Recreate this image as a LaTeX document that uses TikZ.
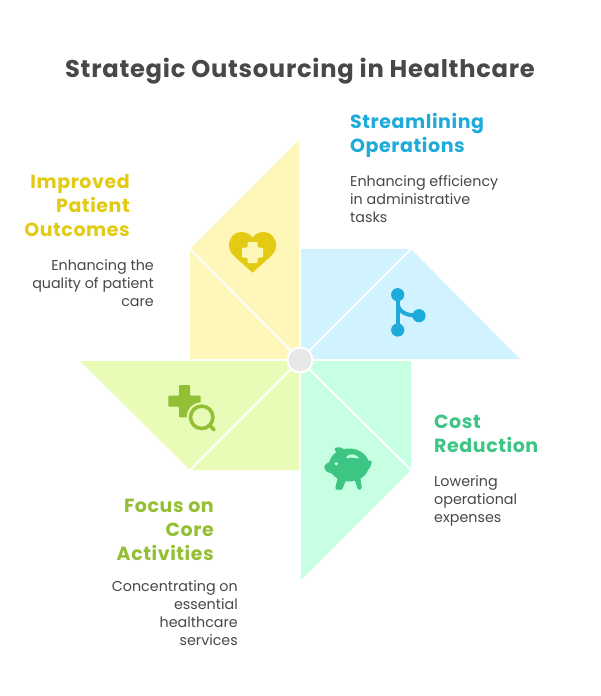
\documentclass[tikz,border=0pt]{standalone}
\usepackage{fontspec}
\setmainfont{Poppins}
\newfontfamily\headfont[LetterSpace=3]{Poppins Bold}
\definecolor{ink}{HTML}{484848}
\definecolor{yelF}{HTML}{FEF7B9}
\definecolor{bluF}{HTML}{D1F3FF}
\definecolor{limF}{HTML}{E8FCB8}
\definecolor{minF}{HTML}{C6FFE2}
\definecolor{yelD}{HTML}{E3CB14}
\definecolor{bluD}{HTML}{1EABDA}
\definecolor{limD}{HTML}{93BF35}
\definecolor{minD}{HTML}{3CC583}
\tikzset{
  x=1pt,y=-1pt,
  head/.style={inner sep=0pt,font=\headfont\fontsize{19}{24}\selectfont},
  body/.style={inner sep=0pt,text=ink,font=\fontsize{14.3}{18}\selectfont},
  lft/.style={anchor=north east,align=right},
  rgt/.style={anchor=north west,align=left},
  sep/.style={draw=white,line width=2pt}
}
\begin{document}
\begin{tikzpicture}
\useasboundingbox (0,0) rectangle (600,696);
\fill[white] (0,0) rectangle (600,696);
\coordinate (c) at (300,360);
% sails
\fill[yelF] (299,140) -- (190,249) -- (190,359) -- (299,359) -- cycle;
\fill[bluF] (301,249) -- (411,249) -- (520,359) -- (301,359) -- cycle;
\fill[limF] (80,361) -- (299,361) -- (299,470) -- (190,470) -- cycle;
\fill[minF] (301,361) -- (411,361) -- (411,470) -- (301,580) -- cycle;
\coordinate (y1) at (190,249);
\coordinate (b1) at (411,249);
\coordinate (l1) at (189,471);
\coordinate (m1) at (411,470);
\draw[sep] (y1) -- (c);
\draw[sep] (b1) -- (c);
\draw[sep] (l1) -- (c);
\draw[sep] (m1) -- (c);
\node[circle,draw=white,line width=2pt,fill=black!9,minimum size=25pt,inner sep=0pt] (hub) at (c) {};
% heart icon
\fill[yelD] (252.5,272.7) -- (235,257) .. controls (231,253) and (229,250) .. (229,245.5) .. controls (229,238) and (234,232) .. (241,232) .. controls (246,232) and (250,234) .. (252.5,237.5) .. controls (255,234) and (259,232) .. (264,232) .. controls (271,232) and (276,238) .. (276,245.5) .. controls (276,250) and (274,253) .. (270,257) -- cycle;
\fill[yelF,rounded corners=1pt] (247.5,242) -- (257.5,242) -- (257.5,247.5) -- (263,247.5) -- (263,257.5) -- (257.5,257.5) -- (257.5,263) -- (247.5,263) -- (247.5,257.5) -- (242,257.5) -- (242,247.5) -- (247.5,247.5) -- cycle;
% branch icon
\draw[bluD,line width=4pt] (397.7,294.7) -- (397.7,330);
\draw[bluD,line width=4pt] (397.7,304) .. controls (399,312) and (406,315.7) .. (419,315.7);
\fill[bluD] (397.7,294.7) circle (6.6);
\fill[bluD] (397.7,330) circle (6.6);
\fill[bluD] (419,315.7) circle (6.6);
% plus and magnifier icon
\fill[limD,rounded corners=0.8pt] (179,385) -- (190,385) -- (190,395.7) -- (200.7,395.7) -- (200.7,406.7) -- (190,406.7) -- (190,417.3) -- (179,417.3) -- (179,406.7) -- (168.3,406.7) -- (168.3,395.7) -- (179,395.7) -- cycle;
\fill[limF] (201.7,417.3) circle (15);
\draw[limD,line width=3.6pt] (201.7,417.3) circle (11.2);
\draw[limD,line width=3.6pt,line cap=round] (209.7,425.3) -- (214,429.7);
% piggy icon
\fill[minD] (349,465) ellipse (20 and 16.5);
\fill[minD,rounded corners=2pt] (324,465) -- (333,460) -- (338,476) -- (325,471) -- cycle;
\fill[minD,rounded corners=1.5pt] (334,448) -- (340,447) -- (347,451) -- (340,460) -- cycle;
\fill[minD,rounded corners=1.5pt] (338,476) -- (346,480) -- (342,490) -- (335,489.5) -- cycle;
\fill[minD,rounded corners=1.5pt] (354,478) -- (360,476) -- (362,489) -- (358,490) -- cycle;
\fill[minD,rounded corners=1pt] (365,460) -- (372,461) -- (370,468) -- (366,471) -- cycle;
\fill[minF] (336.3,463.7) circle (1.9);
\fill[minF,rounded corners=0.8pt] (346.5,456.5) .. controls (350,453.5) and (355,453.5) .. (359.5,458.5) .. controls (355,458) and (351,457) .. (346.5,458.5) -- cycle;
% texts
\node[inner sep=0pt,text=ink,font=\headfont\fontsize{24.2}{28}\selectfont] (title) at (300,71) {Strategic Outsourcing in Healthcare};
\node[head,rgt,text=bluD] (h1) at (350,113) {Streamlining\\Operations};
\node[body,rgt] (t1) at (350,175) {Enhancing efficiency\\in administrative\\tasks};
\node[head,lft,text=yelD] (h2) at (130,174) {Improved\\Patient\\Outcomes};
\node[body,lft] (t2) at (154,259) {Enhancing the\\quality of patient\\care};
\node[head,rgt,text=minD] (h3) at (434,415) {Cost\\Reduction};
\node[body,rgt] (t3) at (434,475) {Lowering\\operational\\expenses};
\node[head,lft,text=limD] (h4) at (214,499) {Focus on\\Core\\Activities};
\node[body,lft] (t4) at (238,580) {Concentrating on\\essential\\healthcare\\services};
\end{tikzpicture}
\end{document}
